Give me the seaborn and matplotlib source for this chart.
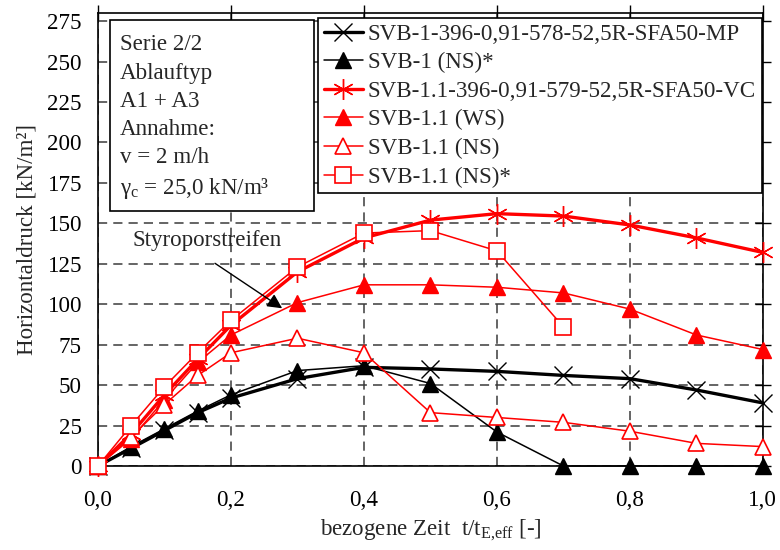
import matplotlib
matplotlib.use("Agg")
import matplotlib.pyplot as plt
from matplotlib.patches import Rectangle
import seaborn as sns

# bezogene Zeit t/t_E,eff
t = [0.0, 0.05, 0.1, 0.15, 0.2, 0.3, 0.4, 0.5, 0.6, 0.7, 0.8, 0.9, 1.0]
# Horizontaldruck [kN/m²]
svb1_mp = [0, 11, 22, 33, 42, 54, 61, 60, 58.5, 56, 54, 47, 39]
svb1_ns_star = [0, 12, 23, 34, 44, 59, 62, 51, 21, 0, 0, 0, 0]
svb11_vc = [0, 20, 44, 66, 87, 120, 141, 152, 156, 154.5, 149, 141, 132]
svb11_ws = [0, 17, 41, 64, 81, 101, 112, 112, 110.5, 107, 97, 81, 72]
svb11_ns = [0, 18, 38, 56, 70, 79, 70, 33, 30, 27, 21.5, 14, 12]
svb11_ns_star = [0, 25, 49, 70, 90, 123, 144, 145.5, 133, 86]

labels = [
    "SVB-1-396-0,91-578-52,5R-SFA50-MP",
    "SVB-1 (NS)*",
    "SVB-1.1-396-0,91-579-52,5R-SFA50-VC",
    "SVB-1.1 (WS)",
    "SVB-1.1 (NS)",
    "SVB-1.1 (NS)*",
]

x_ticks = [0.0, 0.2, 0.4, 0.6, 0.8, 1.0]
x_ticklabels = ["0,0", "0,2", "0,4", "0,6", "0,8", "1,0"]
y_ticks = [0, 25, 50, 75, 100, 125, 150, 175, 200, 225, 250, 275]

info_text = ["Serie 2/2", "Ablauftyp", "A1 + A3", "Annahme:", "v = 2 m/h",
             "γ$_{\\mathrm{c}}$ = 25,0 kN/m³"]

sns.set_theme(style="white")
plt.rcParams["font.family"] = ["Liberation Serif", "DejaVu Serif"]
plt.rcParams["mathtext.fontset"] = "custom"
plt.rcParams["mathtext.rm"] = "Liberation Serif"
plt.rcParams["mathtext.it"] = "Liberation Serif:italic"
plt.rcParams["mathtext.bf"] = "Liberation Serif:bold"
FS = 16.6

fig = plt.figure(figsize=(7.8, 5.5), dpi=100)
ax = fig.add_axes([0.1256, 0.1527, 0.8525, 0.8236])

red = "#ff0000"
star6 = (6, 2, 0)
styles = [
    (t, svb1_mp, dict(color="black", lw=2.4, marker="x", ms=12.5, mec="black", mew=1.0)),
    (t, svb1_ns_star, dict(color="black", lw=1.1, marker="^", ms=11, mfc="black", mec="black", mew=1.0)),
    (t, svb11_vc, dict(color=red, lw=2.4, marker=star6, ms=15, mec=red, mew=1.0)),
    (t, svb11_ws, dict(color=red, lw=1.1, marker="^", ms=11, mfc=red, mec=red, mew=1.0)),
    (t, svb11_ns, dict(color=red, lw=1.1, marker="^", ms=11, mfc="white", mec=red, mew=1.2)),
    (t[:len(svb11_ns_star)], svb11_ns_star, dict(color=red, lw=1.1, marker="s", ms=11.5, mfc="white", mec=red, mew=1.2)),
]
for i, (xs, ys, kw) in enumerate(styles):
    sns.lineplot(x=xs, y=ys, ax=ax, label=labels[i], clip_on=False, zorder=5 + i, **kw)

ax.set_xlim(0, 1.0)
ax.set_ylim(0, 280)
ax.set_xticks(x_ticks)
ax.set_xticklabels(x_ticklabels)
ax.set_yticks(y_ticks)
ax.set_yticklabels([str(v) for v in y_ticks])
ax.tick_params(axis="both", which="both", direction="inout", length=11, width=1.0,
               colors="black", labelsize=FS, top=True, right=True,
               labeltop=False, labelright=False)
ax.tick_params(axis="x", pad=12)
ax.tick_params(axis="y", pad=6)
ax.grid(True, ls=(0, (6, 4)), color="#3a3a3a", lw=1.1, zorder=1)
for s in ax.spines.values():
    s.set_color("black")
    s.set_linewidth(1.2)
    s.set_visible(True)

ax.set_xlabel("bezogene Zeit  t/t$_{\\mathrm{E{,}eff}}$ [-]", fontsize=FS, labelpad=5)
ax.set_ylabel("Horizontaldruck [kN/m²]", fontsize=FS, labelpad=7)

# Info box at the upper left
ax.add_patch(Rectangle((0.018, 0.563), 0.307, 0.422, transform=ax.transAxes,
                       fc="white", ec="black", lw=1.2, zorder=20))
ax.text(0.033, 0.953, "\n".join(info_text), transform=ax.transAxes, ha="left", va="top",
        fontsize=FS, linespacing=1.45, zorder=21)

# Annotation for the polystyrene strip
ax.text(0.164, 139.5, "Styroporstreifen", ha="center", va="center", fontsize=FS, zorder=21)
ax.annotate("", xy=(0.277, 97.5), xytext=(0.176, 125.3),
            arrowprops=dict(arrowstyle="-|>", color="black", lw=1.0, mutation_scale=22,
                            shrinkA=0, shrinkB=0), zorder=21)

leg = ax.legend(loc="upper left", bbox_to_anchor=(0.331, 0.989), borderaxespad=0,
                fontsize=FS, frameon=True, fancybox=False, framealpha=1,
                edgecolor="black", handlelength=1.7, handletextpad=0.2,
                labelspacing=0.32, borderpad=0.25)
leg.get_frame().set_linewidth(1.2)
leg.set_zorder(30)

fig.savefig("out.png", dpi=100)
